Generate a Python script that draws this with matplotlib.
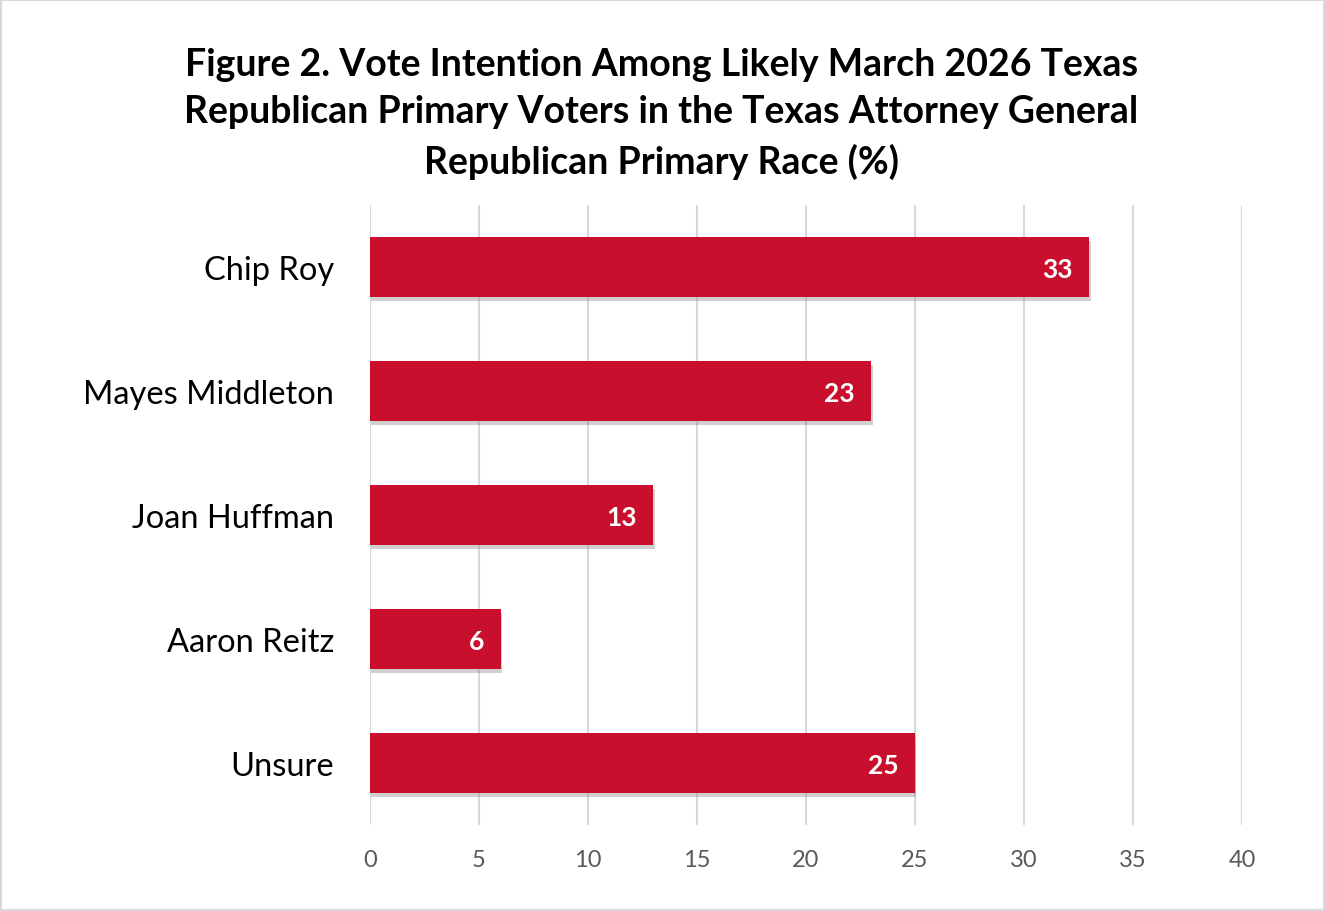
import matplotlib.pyplot as plt
import matplotlib.patheffects as pe
from matplotlib.patches import Rectangle

candidates = ["Chip Roy", "Mayes Middleton", "Joan Huffman", "Aaron Reitz", "Unsure"]
shares = [33, 23, 13, 6, 25]
x_ticks = [0, 5, 10, 15, 20, 25, 30, 35, 40]

title = ("Figure 2. Vote Intention Among Likely March 2026 Texas\n"
         "Republican Primary Voters in the Texas Attorney General\n"
         "Republican Primary Race (%)")

plt.rcParams['font.family'] = ['Lato', 'DejaVu Sans']

fig = plt.figure(figsize=(13.25, 9.12), dpi=100)
ax = fig.add_axes([0.2792, 0.0943, 0.6582, 0.6798])

ypos = list(range(len(candidates)))
bars = ax.barh(ypos, shares, height=0.48, color='#C8102E', zorder=3)
for b in bars:
    b.set_path_effects([pe.SimplePatchShadow(offset=(1, -3), shadow_rgbFace='#666666', alpha=0.3),
                        pe.Normal()])

for y, v in zip(ypos, shares):
    ax.text(v - 0.75, y + 0.02, str(v), ha='right', va='center', color='white',
            fontsize=19, fontweight='bold', zorder=4)

ax.set_xlim(0, 40)
ax.set_ylim(len(candidates) - 0.5, -0.5)
ax.set_yticks(ypos)
ax.set_yticklabels(candidates, fontsize=23.5, color='black')
ax.set_xticks(x_ticks)
ax.set_xticklabels([str(t) for t in x_ticks], fontsize=17, color='#595959')
ax.tick_params(axis='both', length=0)
ax.tick_params(axis='y', pad=26)
ax.tick_params(axis='x', pad=17)
ax.grid(axis='x', color='#D9D9D9', linewidth=1.5, zorder=0)
for s in ax.spines.values():
    s.set_visible(False)

fig.text(0.499, 0.875, title, ha='center', va='center', fontsize=27,
         fontweight='bold', linespacing=1.47)

fig.patches.append(Rectangle((0.001, 0.001), 0.998, 0.998, transform=fig.transFigure,
                             fill=False, edgecolor='#D9D9D9', linewidth=1.5))

fig.savefig('out.png', dpi=100)
